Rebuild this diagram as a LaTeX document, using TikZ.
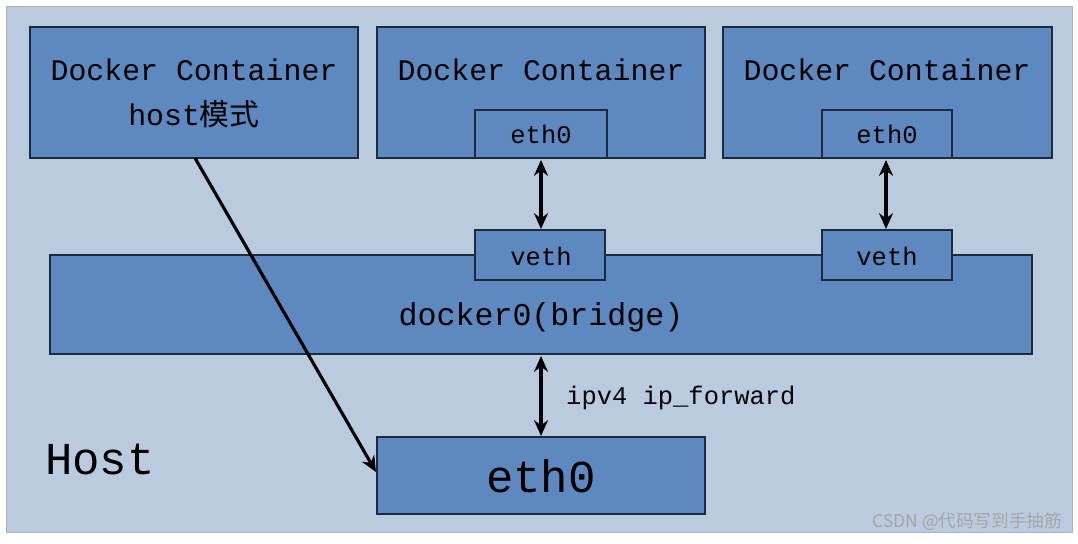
\documentclass[tikz,border=0pt]{standalone}
\usepackage{fontspec}
\setmainfont{Liberation Mono}
\newfontfamily\cjk{Noto Sans CJK SC}
\usetikzlibrary{arrows.meta}
\definecolor{bg}{HTML}{BBCBDF}
\definecolor{boxf}{HTML}{5D88C0}
\definecolor{boxd}{HTML}{1E2A3C}
\begin{document}
\begin{tikzpicture}[x=0.02cm,y=-0.02cm,
  box/.style={draw=boxd,line width=1.6pt,fill=boxf},
  arr/.style={line width=1.8pt,{Stealth[length=9pt,width=8pt]}-{Stealth[length=9pt,width=8pt]}}]
\useasboundingbox (0,0) rectangle (1078,544);
\fill[white] (0,0) rectangle (1078,544);
\draw[fill=bg,draw=gray!60] (6,6) rectangle (1072,532);
% containers
\draw[box] (30,27) rectangle (358,158);
\node (c1a) at (194,70) {\fontsize{17pt}{20pt}\selectfont Docker Container};
\node (c1b) at (194,114) {\fontsize{17pt}{20pt}\selectfont host{\cjk 模式}};
\draw[box] (377,27) rectangle (705,158);
\node (c2) at (541,70) {\fontsize{17pt}{20pt}\selectfont Docker Container};
\draw[box] (723,27) rectangle (1052,158);
\node (c3) at (887,70) {\fontsize{17pt}{20pt}\selectfont Docker Container};
\draw[box] (475,110) rectangle (607,158); \node (e1) at (541,134) {\fontsize{14.5pt}{17pt}\selectfont eth0};
\draw[box] (822,110) rectangle (952,158); \node (e2) at (887,134) {\fontsize{14.5pt}{17pt}\selectfont eth0};
% bridge
\draw[box] (50,255) rectangle (1032,354);
\node (br) at (541,317) {\fontsize{18pt}{21pt}\selectfont docker0(bridge)};
\draw[box] (475,230) rectangle (605,280); \node (v1) at (541,256) {\fontsize{14.5pt}{17pt}\selectfont veth};
\draw[box] (822,230) rectangle (952,280); \node (v2) at (887,256) {\fontsize{14.5pt}{17pt}\selectfont veth};
% host eth0
\draw[box] (377,437) rectangle (705,514);
\node (he) at (541,476) {\fontsize{26pt}{30pt}\selectfont eth0};
\node (host) at (100,460) {\fontsize{26pt}{30pt}\selectfont Host};
\node[anchor=west] (ip) at (560,398) {\fontsize{14.5pt}{17pt}\selectfont ipv4 ip\_forward};
% arrows
\coordinate (a1) at (541,160); \coordinate (a2) at (541,229);
\draw[arr] (a1) -- (a2);
\coordinate (b1) at (886,160); \coordinate (b2) at (886,229);
\draw[arr] (b1) -- (b2);
\coordinate (d1) at (541,356); \coordinate (d2) at (541,436);
\draw[arr] (d1) -- (d2);
\coordinate (s1) at (195,158); \coordinate (s2) at (376,472);
\draw[line width=1.8pt,-{Stealth[length=9pt,width=8pt]}] (s1) -- (s2);
\node[anchor=east,text=gray!70] (wm) at (1068,522) {\fontsize{10pt}{12pt}\selectfont\cjk CSDN @代码写到手抽筋};
\end{tikzpicture}
\end{document}
